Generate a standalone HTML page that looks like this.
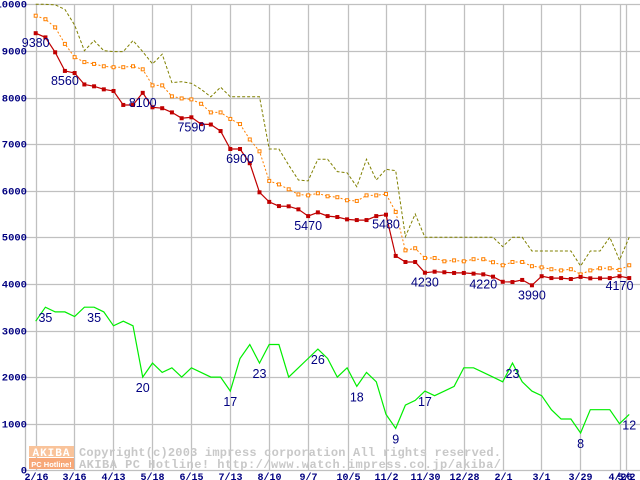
<!DOCTYPE html>
<html><head><meta charset="utf-8"><style>
html,body{margin:0;padding:0;background:#fff;}
svg{display:block;}
</style></head><body>
<svg id="chart" width="640" height="480" xmlns="http://www.w3.org/2000/svg">
<rect x="0" y="0" width="640" height="480" fill="#fff"/>
<g id="grid"></g>
<g id="watermark">
  <rect x="29" y="446" width="45" height="11" fill="#f9c39a"/>
  <text x="51.5" y="456" text-anchor="middle" font-family="Liberation Mono, monospace" font-weight="bold" font-size="11" fill="#fff" letter-spacing="1">AKIBA</text>
  <rect x="29" y="458" width="45" height="11" fill="#f7a878"/>
  <text x="51.5" y="467" text-anchor="middle" font-family="Liberation Sans, sans-serif" font-weight="bold" font-size="7.5" fill="#fff">PC Hotline!</text>
  <text x="79" y="456" font-family="Liberation Mono, monospace" font-weight="bold" font-size="12" fill="#c8c8c8" textLength="422">Copyright(c)2003 impress corporation All rights reserved.</text>
  <text x="79" y="468" font-family="Liberation Mono, monospace" font-weight="bold" font-size="12" fill="#c8c8c8" textLength="422">AKIBA PC Hotline!  http://www.watch.impress.co.jp/akiba/</text>
</g>
<g id="series"></g>
<g id="labels"></g>
</svg>
<script>
const xTickLabels = ["2/16","3/16","4/13","5/18","6/15","7/13","8/10","9/7","10/5","11/2","11/30","12/28","2/1","3/1","3/29","4/26","5/2"];
const xTickWeeks = [0,3.95,7.95,11.95,16,20,24,28,32.05,36.05,40.05,44,48,51.95,55.95,60,60.7];
const yTicks = [0,1000,2000,3000,4000,5000,6000,7000,8000,9000,10000];
const lowPrice = [9380,9290,8970,8570,8525,8280,8240,8175,8140,7840,7840,8100,7790,7770,7680,7555,7575,7430,7420,7280,6895,6895,6590,5965,5760,5670,5665,5600,5455,5535,5455,5435,5385,5370,5370,5455,5485,4600,4470,4470,4240,4262,4250,4235,4235,4220,4205,4155,4045,4040,4085,3970,4165,4125,4125,4105,4150,4120,4120,4125,4165,4125];
const avgPrice = [9755,9680,9505,9150,8865,8760,8720,8670,8650,8650,8670,8605,8260,8260,8025,7980,7960,7865,7680,7680,7540,7430,7100,6845,6210,6135,6030,5920,5900,5945,5880,5860,5795,5780,5900,5900,5930,5545,4720,4765,4555,4555,4485,4505,4485,4530,4530,4465,4400,4470,4470,4380,4355,4315,4290,4315,4205,4290,4335,4335,4300,4400];
const highPrice = [10000,10000,9990,9890,9555,9005,9220,9005,8985,8985,9220,8985,8720,8930,8320,8340,8305,8175,8015,8220,8015,8015,8015,8015,6895,6895,6550,6230,6210,6675,6675,6410,6385,6085,6675,6230,6460,6430,5015,5500,5000,5000,5000,5000,5000,5000,5000,5000,4800,5000,5000,4705,4705,4705,4705,4705,4385,4705,4705,5000,4510,5000];
const shopCount = [32,35,34,34,33,35,35,34,31,32,31,20,23,21,22,20,22,21,20,20,17,24,27,23,27,27,20,22,24,26,24,20,22,18,21,19,12,9,14,15,17,16,17,18,22,22,21,20,19,23,19,17,16,13,11,11,8,13,13,13,10,12];
const lowLabelIdx = [0,3,11,16,21,28,36,40,46,51,60];
const lowLabelText = ["9380","8560","8100","7590","6900","5470","5480","4230","4220","3990","4170"];
const shopLabelIdx = [1,6,11,20,23,29,33,37,40,49,56,61];
const shopLabelText = ["35","35","20","17","23","26","18","9","17","23","8","12"];

const NS = "http://www.w3.org/2000/svg";
function xAt(i){ return 35.7 + i*9.73; }
function yAt(v){ return 470.3 - v*0.0466; }
function mk(tag, attrs, parent){ const e=document.createElementNS(NS,tag); for(const k in attrs) e.setAttribute(k,attrs[k]); parent.appendChild(e); return e; }

const grid = document.getElementById('grid');
mk('line',{x1:25.5,y1:4,x2:25.5,y2:471,stroke:'#bdbdbd','stroke-width':1.3},grid);
yTicks.forEach(v=>{
  const y=Math.round(yAt(v))+0.5;
  const l=mk('line',{x1:25,y1:y,x2:640,y2:y,stroke:'#c0c0c0','stroke-width':1.3},grid);
  
  
  const t=mk('text',{x:27,y:y+3,'text-anchor':'end','font-family':'Liberation Mono, monospace','font-weight':'bold','font-size':10.5,fill:'#000080'},grid);
  t.textContent=v;
  
  
});
xTickWeeks.forEach((w,k)=>{
  const x=Math.round(xAt(w))+0.5;
  const l=mk('line',{x1:x,y1:4,x2:x,y2:471,stroke:'#c0c0c0','stroke-width':1.3},grid);
  
  
  const t=mk('text',{x:x,y:480,'text-anchor':'middle','font-family':'Liberation Mono, monospace','font-weight':'bold','font-size':10,fill:'#000080'},grid);
  t.textContent=xTickLabels[k];
  
  
});

const series=document.getElementById('series');
function pts(arr,scale){ return arr.map((v,i)=>xAt(i).toFixed(1)+','+yAt(v*scale).toFixed(1)).join(' '); }
let p;
p=mk('polyline',{points:pts(highPrice,1),fill:'none',stroke:'#808000','stroke-width':1,'stroke-dasharray':'3,2'},series);


p=mk('polyline',{points:pts(avgPrice,1),fill:'none',stroke:'#ff8000','stroke-width':1,'stroke-dasharray':'2,2'},series);


avgPrice.forEach((v,i)=>{
  const r=mk('rect',{x:xAt(i)-1.5,y:yAt(v)-1.5,width:3,height:3,fill:'#fff',stroke:'#ff8000','stroke-width':1},series);
  
  
});
p=mk('polyline',{points:pts(lowPrice,1),fill:'none',stroke:'#c00000','stroke-width':1.2},series);


lowPrice.forEach((v,i)=>{
  const r=mk('rect',{x:xAt(i)-2,y:yAt(v)-2,width:4,height:4,fill:'#c00000'},series);
  
  
});
p=mk('polyline',{points:pts(shopCount,100),fill:'none',stroke:'#00ee00','stroke-width':1.2},series);



const labels=document.getElementById('labels');
lowLabelIdx.forEach((i,k)=>{
  const t=mk('text',{x:xAt(i),y:yAt(lowPrice[i])+14,'text-anchor':'middle','font-family':'Liberation Sans, sans-serif','font-size':12.5,fill:'#000080'},labels);
  t.textContent=lowLabelText[k];
  
  
});
shopLabelIdx.forEach((i,k)=>{
  const t=mk('text',{x:xAt(i),y:yAt(shopCount[i]*100)+15,'text-anchor':'middle','font-family':'Liberation Sans, sans-serif','font-size':12.5,fill:'#000080'},labels);
  t.textContent=shopLabelText[k];
  
  
});
</script>
</body></html>
